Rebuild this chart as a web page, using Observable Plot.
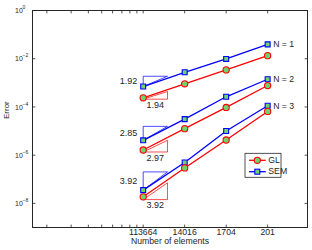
<!DOCTYPE html>
<html><head><meta charset="utf-8">
<script src="https://cdn.jsdelivr.net/npm/d3@7"></script>
<script src="https://cdn.jsdelivr.net/npm/@observablehq/plot@0.6"></script>
<style>body{margin:0;background:#fff} #chart{width:312px;height:250px}</style>
</head><body><div id="chart"></div>
<script>
// x categories: number of elements, positioned by relative element size (log scale)
const elements = [113664, 14016, 1704, 201];
const hRel = [1, 2, 4, 8];
const orders = [1, 2, 3];
// Error values
const glErr = [
  [2.40e-4, 9.10e-4, 3.44e-3, 1.34e-2],
  [1.64e-6, 1.26e-5, 9.53e-5, 7.73e-4],
  [1.87e-8, 2.96e-7, 4.25e-6, 6.52e-5]
];
const semErr = [
  [7.03e-4, 2.74e-3, 9.82e-3, 3.94e-2],
  [4.13e-6, 3.13e-5, 2.64e-4, 1.41e-3],
  [3.55e-8, 4.94e-7, 1.00e-5, 1.12e-4]
];
// slope triangles
const triEnd = 1.5;
const semTriTop = [1.875e-3, 1.563e-5, 2.02e-7];
const glTriBottom = [2.10e-4, 1.355e-6, 1.435e-8];
const glTriTop = [4.37e-4, 4.13e-6, 7.10e-8];
const semSlopes = ["1.92", "2.85", "3.92"];
const glSlopes = ["1.94", "2.97", "3.92"];
// ticks
const xMinor = [0.2, 0.3, 0.4, 0.5, 0.6, 0.7, 0.8, 0.9];
const yTicks = [1, 1e-2, 1e-4, 1e-6, 1e-8];
const yExp = ["0", "\u22122", "\u22124", "\u22126", "\u22128"];

const RED = "#ff0000", BLUE = "#0000ff", GREEN = "#6ed36e", INK = "#262626";

const glRows = [], semRows = [];
orders.forEach((n, k) => {
  hRel.forEach((h, i) => {
    glRows.push({n, h, e: glErr[k][i]});
    semRows.push({n, h, e: semErr[k][i]});
  });
});
const semTri = [], glTri = [];
orders.forEach((n, k) => {
  const p = semErr[k][0];
  [[1, p], [1, semTriTop[k]], [triEnd, semTriTop[k]], [1, p]].forEach(([h, e]) => semTri.push({n, h, e}));
  [[1, glTriBottom[k]], [triEnd, glTriBottom[k]], [triEnd, glTriTop[k]], [1, glTriBottom[k]]].forEach(([h, e]) => glTri.push({n, h, e}));
});
const semLab = orders.map((n, k) => ({h: 1, e: Math.sqrt(semErr[k][0] * semTriTop[k]), t: semSlopes[k]}));
const glLab = orders.map((n, k) => ({h: Math.sqrt(triEnd), e: glTriBottom[k], t: glSlopes[k]}));
const nLab = orders.map((n, k) => ({h: hRel[3], e: semErr[k][3], t: "N = " + n}));

const tickShape = {draw(context, l) { context.moveTo(0, 0); context.lineTo(0, -l); }};
const xAllTicks = [...xMinor, ...hRel];
const tickOpts = {length: 2.5, anchor: "start", shape: tickShape, stroke: INK, strokeWidth: 0.8};

const chart = Plot.plot({
  width: 312, height: 250,
  marginLeft: 32, marginRight: 5, marginTop: 10, marginBottom: 23,
  style: {fontFamily: "'Liberation Sans', Arial, sans-serif", fontSize: "8.7px", color: INK, background: "#fff"},
  x: {type: "log", domain: [0.1573, 15.57], axis: null},
  y: {type: "log", domain: [1e-9, 1], axis: null},
  marks: [
    Plot.frame({stroke: INK, strokeWidth: 1}),
    Plot.vector(xAllTicks, {x: d => d, frameAnchor: "bottom", rotate: 0, ...tickOpts}),
    Plot.vector(xAllTicks, {x: d => d, frameAnchor: "top", rotate: 180, ...tickOpts}),
    Plot.vector(yTicks, {y: d => d, frameAnchor: "left", rotate: 90, ...tickOpts}),
    Plot.vector(yTicks, {y: d => d, frameAnchor: "right", rotate: -90, ...tickOpts}),
    Plot.text(hRel, {x: d => d, text: (d, i) => String(elements[i]), frameAnchor: "bottom", dy: 7.5, fill: INK}),
    Plot.text(yTicks, {y: d => d, text: () => "10", frameAnchor: "left", textAnchor: "start", dx: -17.5, dy: 0.5, fontSize: 7, fill: INK}),
    Plot.text(yTicks, {y: d => d, text: (d, i) => yExp[i], frameAnchor: "left", textAnchor: "start", dx: -10, dy: -3, fontSize: 5, fill: INK}),
    Plot.text(["Number of elements"], {text: d => d, frameAnchor: "bottom", dy: 16.5, fill: INK}),
    Plot.text(["Error"], {text: d => d, frameAnchor: "left", rotate: -90, dx: -26, fontSize: 8, fill: INK}),
    Plot.line(semTri, {x: "h", y: "e", z: "n", stroke: BLUE, strokeWidth: 0.7}),
    Plot.line(glTri, {x: "h", y: "e", z: "n", stroke: RED, strokeWidth: 0.7}),
    Plot.line(semRows, {x: "h", y: "e", z: "n", stroke: BLUE, strokeWidth: 1.3}),
    Plot.line(glRows, {x: "h", y: "e", z: "n", stroke: RED, strokeWidth: 1.3}),
    Plot.dot(semRows, {x: "h", y: "e", symbol: "square", r: 2.8, stroke: BLUE, strokeWidth: 1.1, fill: GREEN}),
    Plot.dot(glRows, {x: "h", y: "e", symbol: "circle", r: 3.1, stroke: RED, strokeWidth: 1.1, fill: GREEN}),
    Plot.text(semLab, {x: "h", y: "e", text: "t", textAnchor: "end", dx: -6, fontSize: 9, fill: INK}),
    Plot.text(glLab, {x: "h", y: "e", text: "t", dy: 6, fontSize: 9, fill: INK}),
    Plot.text(nLab, {x: "h", y: "e", text: "t", textAnchor: "start", dx: 5.5, fill: INK})
  ]
});
document.getElementById("chart").appendChild(chart);

// legend
const svg = d3.select(chart);
const lg = svg.append("g").attr("font-family", "'Liberation Sans', Arial, sans-serif").attr("font-size", "8.7px").attr("text-anchor", "start");
lg.append("rect").attr("x", 245).attr("y", 153.3).attr("width", 36).attr("height", 24).attr("fill", "#fff").attr("stroke", INK).attr("stroke-width", 0.8);
const entries = [{t: "GL", c: RED, sym: "circle", y: 160.3}, {t: "SEM", c: BLUE, sym: "square", y: 171.7}];
entries.forEach(e => {
  lg.append("line").attr("x1", 249).attr("x2", 265.7).attr("y1", e.y).attr("y2", e.y).attr("stroke", e.c).attr("stroke-width", 1.3);
  if (e.sym === "circle") {
    lg.append("circle").attr("cx", 257.3).attr("cy", e.y).attr("r", 3.1).attr("fill", GREEN).attr("stroke", e.c).attr("stroke-width", 1.1);
  } else {
    lg.append("rect").attr("x", 257.3 - 2.5).attr("y", e.y - 2.5).attr("width", 5).attr("height", 5).attr("fill", GREEN).attr("stroke", e.c).attr("stroke-width", 1.1);
  }
  lg.append("text").attr("x", 268.3).attr("y", e.y).attr("dy", "0.32em").attr("fill", INK).text(e.t);
});
</script>
</body></html>
